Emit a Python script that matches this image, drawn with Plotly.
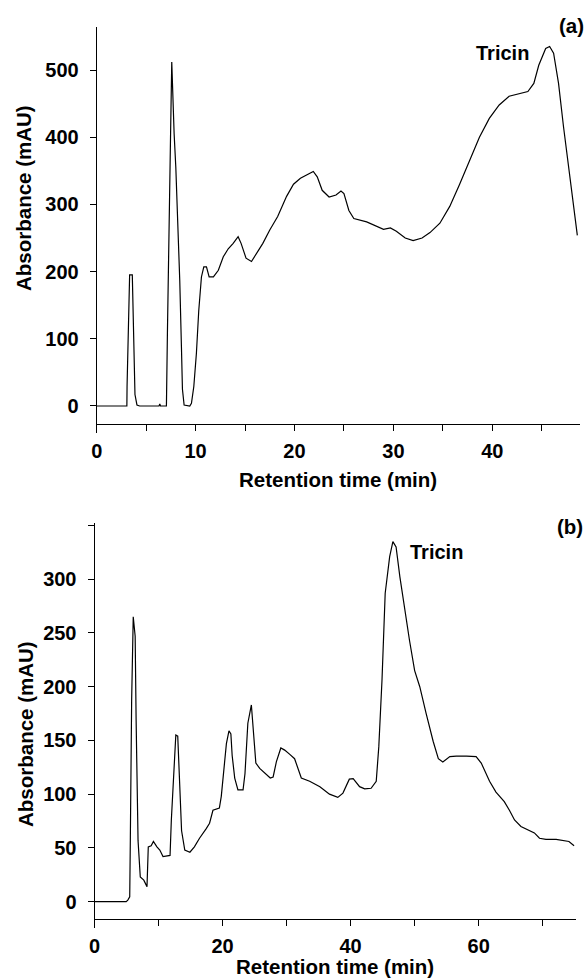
import plotly.graph_objects as go

# ---------------- data ----------------
time_a = [0, 3.05, 3.07, 3.2, 3.33, 3.6, 3.74, 3.87, 4.07, 4.34,
          6.3, 6.38, 6.45, 7.05, 7.15, 7.32, 7.46, 7.59, 7.69, 7.83,
          8.0, 8.17, 8.4, 8.57, 8.67, 8.84, 9.41, 9.58, 9.82, 10.08,
          10.32, 10.59, 10.83, 11.1, 11.37, 11.8, 12.3, 12.8, 13.3, 13.8,
          14.3, 14.6, 15.1, 15.65, 16.1, 16.8, 17.5, 18.3, 19.2, 19.9,
          20.6, 21.3, 21.9, 22.3, 22.8, 23.5, 24.2, 24.7, 25.0, 25.5,
          26.0, 27.3, 28.4, 29.0, 29.7, 30.3, 31.2, 32.0, 32.9, 33.7,
          34.7, 35.7, 36.7, 37.7, 38.7, 39.7, 40.7, 41.7, 42.7, 43.6,
          44.2, 44.7, 45.4, 45.8, 46.2, 46.7, 47.2, 47.7, 48.2, 48.6]
abs_a = [0, 0, 29, 145, 195, 195, 106, 17, 1.5, 0,
         0, 3, 0, 0, 108, 237, 396, 512, 454, 405,
         355, 286, 186, 87, 25, 1.5, 0, 4, 29, 78,
         142, 192, 207, 207, 192, 192, 202, 222, 234, 242,
         252, 242, 220, 215, 225, 242, 262, 282, 312, 330,
         339, 344, 349, 341, 321, 311, 314, 320, 316, 291,
         279, 274, 267, 263, 265, 260, 250, 246, 250, 258,
         272, 297, 330, 366, 400, 428, 448, 461, 465, 468,
         480, 507, 532, 535, 525, 480, 416, 357, 297, 254]

time_b = [0, 4.95, 5.2, 5.5, 5.6, 5.8, 6.05, 6.2, 6.35, 6.5,
          6.8, 7.15, 7.7, 8.2, 8.4, 8.85, 9.2, 9.75, 10.2, 10.7,
          11.8, 12.0, 12.4, 12.7, 13.0, 13.2, 13.6, 14.1, 14.9, 15.6,
          16.4, 17.45, 17.97, 18.5, 19.5, 19.8, 20.15, 20.6, 21.0, 21.3,
          21.5, 21.9, 22.4, 23.2, 23.5, 23.95, 24.5, 24.8, 25.2, 25.8,
          26.8, 27.45, 27.9, 28.4, 29.1, 29.7, 30.5, 31.25, 32.3, 33.6,
          35.2, 36.7, 38.0, 38.8, 39.8, 40.4, 41.4, 42.2, 43.2, 44.0,
          44.4, 44.9, 45.4, 46.1, 46.6, 47.1, 47.7, 48.4, 49.2, 50.0,
          50.8, 51.8, 52.9, 53.7, 54.4, 55.5, 56.5, 58.1, 59.6, 60.4,
          61.7, 62.7, 64.0, 64.8, 65.6, 66.6, 67.7, 68.7, 69.5, 70.5,
          72.1, 73.1, 74.1, 74.9]
abs_b = [0, 0, 1.5, 4.6, 60, 187, 265, 255, 247, 169,
         57, 23, 20, 14, 51, 52, 56, 51, 48, 42,
         43, 76, 115, 155, 154, 119, 66, 48, 46, 51,
         59, 68, 73, 85, 87, 98, 119, 147, 159, 156,
         136, 115, 104, 104, 119, 166, 183, 157, 129, 124,
         119, 115, 116, 130, 143, 141, 137, 133, 115, 112,
         107, 100, 97, 101, 114, 114.5, 107, 105, 105.5, 112,
         144, 206, 287, 321, 335, 330, 302, 274, 243, 215,
         200, 175, 149, 133, 130, 135, 135.5, 135.5, 135, 129,
         112, 102, 93, 85, 76, 70, 67, 64, 59, 58,
         58, 57, 56, 52]

xtick_vals_a = [0, 5, 10, 15, 20, 25, 30, 35, 40, 45]
xtick_text_a = ["0", "", "10", "", "20", "", "30", "", "40", ""]
ytick_vals_a = [0, 100, 200, 300, 400, 500]
ytick_text_a = ["0", "100", "200", "300", "400", "500"]

xtick_vals_b = [0, 10, 20, 30, 40, 50, 60, 70]
xtick_text_b = ["0", "", "20", "", "40", "", "60", ""]
ytick_vals_b = [0, 50, 100, 150, 200, 250, 300, 350]
ytick_text_b = ["0", "50", "100", "150", "200", "250", "300", ""]

peak_label = "Tricin"
peak_a = (41.0, 525)
peak_b = (53.4, 325)
x_title = "Retention time (min)"
y_title = "Absorbance (mAU)"

# ---------------- figure ----------------
W, H = 586, 979
FONT = "Liberation Sans, Arial, sans-serif"


def px(x):
    return x / W


def py(y):
    return 1 - y / H


fig = go.Figure()
fig.add_trace(go.Scatter(x=time_a, y=abs_a, mode="lines",
                         line=dict(color="black", width=1.2),
                         xaxis="x", yaxis="y", showlegend=False))
fig.add_trace(go.Scatter(x=time_b, y=abs_b, mode="lines",
                         line=dict(color="black", width=1.2),
                         xaxis="x2", yaxis="y2", showlegend=False))

tickfont = dict(family=FONT, size=20, color="black", weight="bold")
common = dict(showline=True, linecolor="black", linewidth=1,
              ticks="outside", ticklen=6, tickwidth=1, tickcolor="black",
              showgrid=False, zeroline=False, tickfont=tickfont,
              fixedrange=True, automargin=False)

fig.update_layout(
    width=W, height=H,
    paper_bgcolor="white", plot_bgcolor="white",
    margin=dict(l=0, r=0, t=0, b=0, autoexpand=False),
    xaxis=dict(domain=[px(96.7), px(580)], range=[0, 48.87],
               anchor="free", position=py(424),
               tickmode="array", tickvals=xtick_vals_a, ticktext=xtick_text_a,
               ticklabelstandoff=3, **common),
    yaxis=dict(domain=[py(433), py(27)], range=[-40.2, 564],
               anchor="x",
               tickmode="array", tickvals=ytick_vals_a, ticktext=ytick_text_a,
               ticklabelstandoff=7, **common),
    xaxis2=dict(domain=[px(94.5), px(576)], range=[0, 75.2],
                anchor="free", position=py(919),
                tickmode="array", tickvals=xtick_vals_b, ticktext=xtick_text_b,
                ticklabelstandoff=3, **common),
    yaxis2=dict(domain=[py(928), py(523)], range=[-24.5, 352.3],
                anchor="x2",
                tickmode="array", tickvals=ytick_vals_b, ticktext=ytick_text_b,
                ticklabelstandoff=7, **common),
)

bold = dict(family=FONT, size=20.5, color="black", weight="bold")
ann = [
    # axis titles
    dict(text=x_title, x=px(338), y=py(480), xref="paper", yref="paper",
         showarrow=False, font=bold, xanchor="center", yanchor="middle"),
    dict(text=x_title, x=px(335), y=py(966), xref="paper", yref="paper",
         showarrow=False, font=bold, xanchor="center", yanchor="middle"),
    dict(text=y_title, x=px(23), y=py(198), xref="paper", yref="paper",
         showarrow=False, font=bold, textangle=-90,
         xanchor="center", yanchor="middle"),
    dict(text=y_title, x=px(25), y=py(734), xref="paper", yref="paper",
         showarrow=False, font=bold, textangle=-90,
         xanchor="center", yanchor="middle"),
    # panel labels
    dict(text="(a)", x=px(571), y=py(25), xref="paper", yref="paper",
         showarrow=False, font=bold, xanchor="center", yanchor="middle"),
    dict(text="(b)", x=px(570), y=py(526), xref="paper", yref="paper",
         showarrow=False, font=bold, xanchor="center", yanchor="middle"),
    # peak labels
    dict(text=peak_label, x=peak_a[0], y=peak_a[1], xref="x", yref="y",
         showarrow=False, font=dict(bold, size=20),
         xanchor="center", yanchor="middle"),
    dict(text=peak_label, x=peak_b[0], y=peak_b[1], xref="x2", yref="y2",
         showarrow=False, font=dict(bold, size=20),
         xanchor="center", yanchor="middle"),
]
fig.update_layout(annotations=ann)

fig.write_html(
    "out.html",
    config={"displayModeBar": False, "staticPlot": True},
    post_script="document.body.style.margin='0';"
                "document.body.style.padding='0';"
                "document.body.style.overflow='hidden';",
)
